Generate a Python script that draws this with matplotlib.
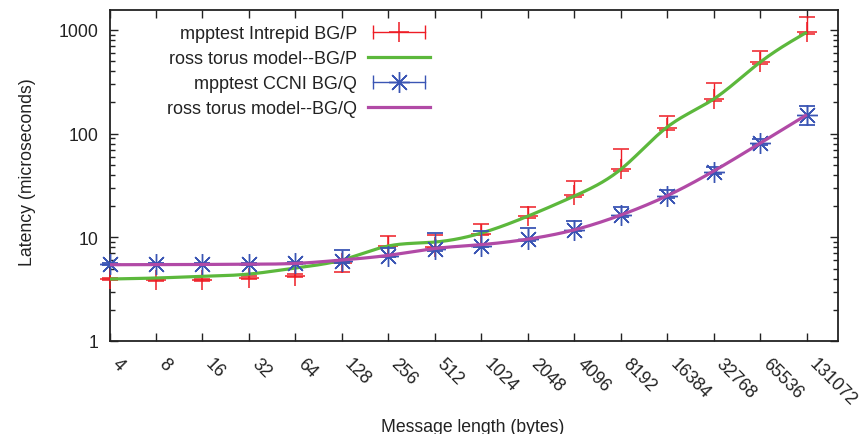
import numpy as np
import matplotlib
matplotlib.use('Agg')
import matplotlib.pyplot as plt
from matplotlib.lines import Line2D
from matplotlib.legend_handler import HandlerTuple, HandlerLine2D
from matplotlib.transforms import ScaledTranslation
from matplotlib.ticker import LogLocator, NullFormatter, FixedLocator, FixedFormatter

# ---------------- data ----------------
sizes = [4, 8, 16, 32, 64, 128, 256, 512, 1024, 2048, 4096, 8192,
         16384, 32768, 65536, 131072]
size_labels = [str(s) for s in sizes]

bgp_meas = [3.95, 3.85, 3.85, 4.05, 4.25, 5.6, 8.2, 8.0, 10.8, 16.0, 25.6, 45.6, 113, 216, 487, 948]
bgp_low = [3.85, 3.75, 3.75, 3.95, 4.15, 4.6, 8.0, 7.8, 10.5, 15.4, 24.5, 43.5, 108, 205, 465, 905]
bgp_high = [4.05, 4.0, 4.0, 4.2, 4.45, 6.0, 10.3, 10.5, 13.4, 19.7, 34.9, 71, 147, 305, 630, 1320]
bgp_model = [3.96, 4.05, 4.2, 4.42, 5.06, 6.04, 8.25, 9.0, 11.0, 16.0, 25.0, 45.3, 116, 216, 490, 950]

bgq_meas = [5.53, 5.53, 5.53, 5.55, 5.65, 5.95, 6.65, 7.7, 8.3, 9.6, 11.8, 16.4, 25.0, 42.6, 80.6, 152]
bgq_low = [5.4, 5.4, 5.4, 5.4, 5.5, 5.6, 6.4, 7.4, 8.0, 9.3, 11.4, 15.8, 24.0, 41.0, 77.0, 121]
bgq_high = [5.7, 5.7, 5.7, 5.7, 5.8, 7.6, 7.88, 11.0, 11.5, 12.3, 14.3, 19.7, 28.8, 47.6, 89, 184]
bgq_model = [5.44, 5.45, 5.47, 5.5, 5.6, 6.04, 6.7, 7.8, 8.5, 9.6, 11.8, 16.4, 25.2, 43.6, 81, 152]

series_labels = ["mpptest Intrepid BG/P", "ross torus model--BG/P",
                 "mpptest CCNI BG/Q", "ross torus model--BG/Q"]

RED = '#ee1c25'
GREEN = '#5cb83c'
BLUE = '#3a55b4'
MAGENTA = '#b14aa6'
TXT = '#222222'
FS = 12.7

plt.rcParams['font.family'] = ['Liberation Sans', 'DejaVu Sans']
plt.rcParams['font.size'] = FS


def smooth_curve(xv, yv, n=400):
    """Natural cubic spline through (log2 x, log10 y) – drawing style only."""
    t = np.log2(np.asarray(xv, float))
    y = np.log10(np.asarray(yv, float))
    m = len(t)
    h = np.diff(t)
    A = np.zeros((m, m))
    r = np.zeros(m)
    A[0, 0] = A[-1, -1] = 1
    for i in range(1, m - 1):
        A[i, i - 1] = h[i - 1]
        A[i, i] = 2 * (h[i - 1] + h[i])
        A[i, i + 1] = h[i]
        r[i] = 3 * ((y[i + 1] - y[i]) / h[i] - (y[i] - y[i - 1]) / h[i - 1])
    c = np.linalg.solve(A, r)
    b = np.zeros(m - 1)
    d = np.zeros(m - 1)
    for i in range(m - 1):
        b[i] = (y[i + 1] - y[i]) / h[i] - h[i] * (2 * c[i] + c[i + 1]) / 3
        d[i] = (c[i + 1] - c[i]) / (3 * h[i])
    tt = np.linspace(t[0], t[-1], n)
    idx = np.clip(np.searchsorted(t, tt) - 1, 0, m - 2)
    dt = tt - t[idx]
    yy = y[idx] + b[idx] * dt + c[idx] * dt ** 2 + d[idx] * dt ** 3
    return 2 ** tt, 10 ** yy


fig = plt.figure(figsize=(8.67, 4.35), dpi=100)
ax = fig.add_axes([109.5 / 867, 1 - 342 / 435, (838 - 109.5) / 867, (342 - 11) / 435])
ax.set_xscale('log', base=2)
ax.set_yscale('log')

# measured BG/P
bp = np.array(bgp_meas)
ax.errorbar(sizes, bgp_meas,
            yerr=[bp - np.array(bgp_low), np.array(bgp_high) - bp],
            fmt='+', color=RED, ecolor=RED, markersize=14, markeredgewidth=1.1,
            elinewidth=1.0, capsize=5.5, capthick=1.0, clip_on=False, zorder=3)
# model BG/P
gx, gy = smooth_curve(sizes, bgp_model)
ax.plot(gx, gy, color=GREEN, lw=2.3, zorder=4, solid_capstyle='butt')
# measured BG/Q
bq = np.array(bgq_meas)
ax.errorbar(sizes, bgq_meas,
            yerr=[bq - np.array(bgq_low), np.array(bgq_high) - bq],
            fmt='none', ecolor=BLUE, elinewidth=1.0, capsize=5.5, capthick=1.3,
            clip_on=False, zorder=5)
ax.plot(sizes, bgq_meas, linestyle='none', marker=(8, 2, 0), markersize=15,
        markeredgewidth=1.0, color=BLUE, clip_on=False, zorder=5)
# model BG/Q
mx, my = smooth_curve(sizes, bgq_model)
ax.plot(mx, my, color=MAGENTA, lw=2.3, zorder=6, solid_capstyle='butt')

# axes
ax.set_xlim(4, 2 ** (2 + 15.67))
ax.set_ylim(1, 1556)
ax.xaxis.set_major_locator(FixedLocator(sizes))
ax.xaxis.set_major_formatter(FixedFormatter(size_labels))
ax.xaxis.set_minor_locator(FixedLocator([]))
ax.yaxis.set_minor_locator(LogLocator(base=10, subs=np.arange(2, 10)))
ax.yaxis.set_minor_formatter(NullFormatter())
ax.set_yticks([1, 10, 100, 1000])
ax.set_yticklabels(['1', '10', '100', '1000'])

ax.tick_params(axis='both', which='major', direction='in', length=6, width=1.0,
               top=True, right=True, colors='#222222', labelcolor=TXT, labelsize=FS)
ax.tick_params(axis='y', which='minor', direction='in', length=3.5, width=1.0,
               right=True, left=True, colors='#222222')
ax.tick_params(axis='y', which='major', pad=8)
ax.tick_params(axis='x', which='major', pad=14)
for s in ax.spines.values():
    s.set_linewidth(1.3)
    s.set_color('#222222')

for lab in ax.get_xticklabels():
    lab.set_rotation(-45)
    lab.set_rotation_mode('anchor')
    lab.set_ha('left')
    lab.set_va('center')
    lab.set_transform(lab.get_transform() + ScaledTranslation(5 / 100, 0, fig.dpi_scale_trans))

ax.set_ylabel('Latency (microseconds)', color=TXT, fontsize=FS)
ax.yaxis.set_label_coords(-(109.5 - 36) / (838 - 109.5), 0.512)
fig.text(473 / 867, 1 - 428 / 435, 'Message length (bytes)', ha='center', va='center',
         color=TXT, fontsize=FS)

# legend (gnuplot style: text right, sample with horizontal error bar)
h_red_line = Line2D([0], [0], color=RED, lw=1.0, marker='|', markersize=10,
                    markeredgewidth=1.0)
h_red_mark = Line2D([0], [0], color=RED, lw=0, marker='+', markersize=14,
                    markeredgewidth=1.1)
h_green = Line2D([0], [0], color=GREEN, lw=2.3)
h_blue_line = Line2D([0], [0], color=BLUE, lw=1.0, marker='|', markersize=10,
                     markeredgewidth=1.0)
h_blue_mark = Line2D([0], [0], color=BLUE, lw=0, marker=(8, 2, 0), markersize=15,
                     markeredgewidth=1.0)
h_mag = Line2D([0], [0], color=MAGENTA, lw=2.3)

handles = [(h_red_line, h_red_mark), h_green, (h_blue_line, h_blue_mark), h_mag]
hmap = {
    tuple: HandlerTuple(ndivide=1, pad=0),
    h_red_line: HandlerLine2D(numpoints=2),
    h_blue_line: HandlerLine2D(numpoints=2),
    h_red_mark: HandlerLine2D(numpoints=1),
    h_blue_mark: HandlerLine2D(numpoints=1),
}
leg = ax.legend(handles, series_labels, handler_map=hmap, loc='upper right',
                bbox_to_anchor=(430 / 867, 1 - 26 / 435), bbox_transform=fig.transFigure,
                frameon=False, markerfirst=False, borderpad=0, borderaxespad=0,
                handlelength=3.43, handletextpad=0.6, labelspacing=0.44,
                fontsize=13, labelcolor=TXT)

fig.savefig('out.png', dpi=100)
